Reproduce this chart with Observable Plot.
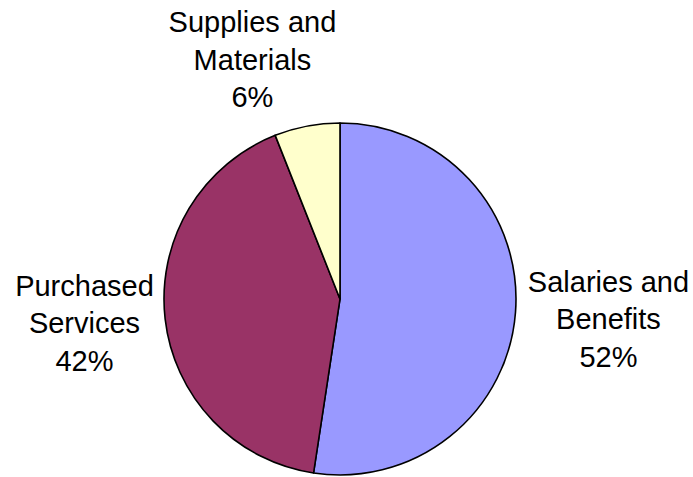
<!DOCTYPE html>
<html>
<head>
<meta charset="utf-8">
<script src="https://cdn.jsdelivr.net/npm/d3@7"></script>
<script src="https://cdn.jsdelivr.net/npm/@observablehq/plot@0.6"></script>
<style>
  html, body { margin: 0; padding: 0; background: #fff; }
</style>
</head>
<body>
<div id="chart"></div>
<script>
const categories = ["Salaries and Benefits", "Purchased Services", "Supplies and Materials"];
const labelLines = ["Salaries and\nBenefits", "Purchased\nServices", "Supplies and\nMaterials"];
const shares = [52.4, 41.6, 6.0];
const percentLabels = ["52%", "42%", "6%"];
const colors = ["#9999FF", "#993366", "#FFFFCC"];

const W = 693, H = 477;
const R = 176, CX = 340, CY = 299;

const rows = categories.map((c, i) => ({
  category: c, value: shares[i], label: labelLines[i] + "\n" + percentLabels[i], color: colors[i]
}));
const arcs = d3.pie().sort(null).value(d => d.value)(rows);

// label placement tweaks (radius in pie radii, angle shift in degrees)
const deg = Math.PI / 180;
const labelTweak = {
  "Salaries and Benefits": {r: 1.526, a: -0.5},
  "Purchased Services": {r: 1.46, a: 1.6},
  "Supplies and Materials": {r: 1.463, a: -9.2}
};
const labels = arcs.map(a => {
  const t = labelTweak[a.data.category] || {r: 1.49, a: 0};
  const mid = (a.startAngle + a.endAngle) / 2 + t.a * deg;
  return {label: a.data.label, x: t.r * Math.sin(mid), y: t.r * Math.cos(mid)};
});

function pieMark(index, scales, values, dimensions) {
  const x = scales.x, y = scales.y;
  const cx = x(0), cy = y(0);
  const r = Math.abs(x(1) - x(0));
  const arcGen = d3.arc().innerRadius(0).outerRadius(r);
  const g = d3.create("svg:g").attr("transform", `translate(${cx},${cy})`);
  g.selectAll("path").data(arcs).join("path")
    .attr("d", arcGen)
    .attr("fill", d => d.data.color)
    .attr("stroke", "#000")
    .attr("stroke-width", 1.6)
    .attr("stroke-linejoin", "round");
  return g.node();
}

const chart = Plot.plot({
  width: W,
  height: H,
  margin: 0,
  style: {fontFamily: "'Liberation Sans', Arial, sans-serif", fontSize: "29px", background: "#fff", overflow: "visible"},
  x: {domain: [-CX / R, (W - CX) / R], axis: null},
  y: {domain: [-(H - CY) / R, CY / R], axis: null},
  marks: [
    pieMark,
    Plot.text(labels, {
      x: "x", y: "y", text: "label",
      fontSize: 29, lineHeight: 1.293, fill: "#000", textAnchor: "middle"
    })
  ]
});
document.getElementById("chart").appendChild(chart);
</script>
</body>
</html>
